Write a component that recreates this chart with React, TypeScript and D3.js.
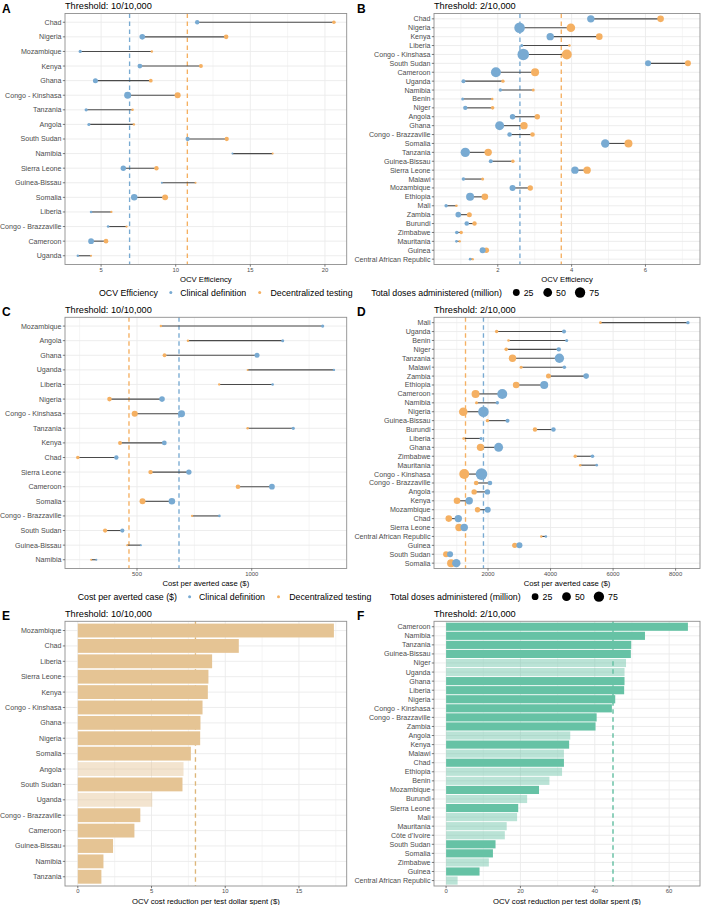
import React from 'react';
import * as d3 from 'd3';

const W = 703;
const H = 905;
const FONT = '"Liberation Sans", Arial, Helvetica, sans-serif';
const BLUE = '#78AAD2';
const ORANGE = '#F5B062';

// ---- Panel A: OCV efficiency, threshold 10/10,000 ----
const effA_countries = ['Chad', 'Nigeria', 'Mozambique', 'Kenya', 'Ghana', 'Congo - Kinshasa', 'Tanzania', 'Angola',
  'South Sudan', 'Namibia', 'Sierra Leone', 'Guinea-Bissau', 'Somalia', 'Liberia', 'Congo - Brazzaville', 'Cameroon', 'Uganda'];
const effA_clinical = [11.44, 7.76, 3.6, 7.6, 4.62, 6.78, 4.0, 4.18, 10.8, 13.8, 6.49, 9.07, 7.22, 4.33, 5.47, 4.33, 3.44];
const effA_decentral = [20.6, 13.38, 8.4, 11.69, 8.33, 10.13, 7.11, 7.2, 13.42, 16.5, 8.71, 11.33, 9.29, 5.69, 6.71, 5.33, 4.33];
// doses administered (million), same country order as panel A
const dosesA_clinical = [6.3, 14, 1.6, 8.5, 9.8, 27, 1.6, 1.1, 5.5, 0, 12.5, 0, 22, 0.4, 0.4, 15, 0.2];
const dosesA_decentral = [2.8, 7.3, 0.2, 4.3, 3.5, 18, 0.2, 0.2, 5.5, 0, 6.3, 0, 17, 0.1, 0.1, 7.3, 0];

// ---- Panel B: OCV efficiency, threshold 2/10,000 ----
const effB_countries = ['Chad', 'Nigeria', 'Kenya', 'Liberia', 'Congo - Kinshasa', 'South Sudan', 'Cameroon', 'Uganda',
  'Namibia', 'Benin', 'Niger', 'Angola', 'Ghana', 'Congo - Brazzaville', 'Somalia', 'Tanzania', 'Guinea-Bissau',
  'Sierra Leone', 'Malawi', 'Mozambique', 'Ethiopia', 'Mali', 'Zambia', 'Burundi', 'Zimbabwe', 'Mauritania', 'Guinea',
  'Central African Republic'];
const effB_clinical = [4.52, 2.59, 3.42, 2.65, 2.69, 6.07, 1.95, 1.07, 2.07, 1.05, 1.12, 2.40, 2.05, 2.32, 4.91, 1.12,
  1.81, 4.09, 1.07, 2.40, 1.25, 0.6, 0.93, 1.16, 0.89, 0.88, 1.59, 1.25];
const effB_decentral = [6.41, 3.98, 4.75, 3.94, 3.87, 7.15, 3.01, 2.14, 2.96, 1.85, 1.86, 3.07, 2.71, 2.94, 5.54, 1.74,
  2.41, 4.42, 1.59, 2.88, 1.65, 0.88, 1.23, 1.37, 1.01, 0.97, 1.69, 1.32];
const dosesB_clinical = [31.6, 80, 31.6, 1.1, 100, 17.4, 69, 4.3, 2.1, 1.1, 6.3, 12.5, 53, 7.3, 44, 59, 4.3, 31.6, 2.8,
  17.4, 39, 2.1, 14, 7.3, 2.8, 0.4, 17.4, 0.4];
const dosesB_decentral = [23, 47, 23, 0.4, 69, 17.4, 39, 2.1, 1.1, 0.4, 2.8, 12.5, 31.6, 7.3, 39, 31.6, 2.1, 31.6, 1.1,
  12.5, 23, 0.4, 9.8, 6.3, 2.1, 0.2, 12.5, 0.2];

// ---- Panel C: cost per averted case, threshold 10/10,000 ----
const costC_countries = ['Mozambique', 'Angola', 'Ghana', 'Uganda', 'Liberia', 'Nigeria', 'Congo - Kinshasa', 'Tanzania',
  'Kenya', 'Chad', 'Sierra Leone', 'Cameroon', 'Somalia', 'Congo - Brazzaville', 'South Sudan', 'Guinea-Bissau', 'Namibia'];
const costC_clinical = [1309, 1135, 1023, 1358, 1091, 609, 694, 1181, 619, 410, 726, 1088, 652, 859, 436, 517, 323];
const costC_decentral = [604, 722, 620, 982, 858, 380, 490, 982, 426, 242, 559, 940, 524, 740, 361, 457, 300];

// ---- Panel D: cost per averted case, threshold 2/10,000 ----
const costD_countries = ['Mali', 'Uganda', 'Benin', 'Niger', 'Tanzania', 'Malawi', 'Zambia', 'Ethiopia', 'Cameroon',
  'Namibia', 'Nigeria', 'Guinea-Bissau', 'Burundi', 'Liberia', 'Ghana', 'Zimbabwe', 'Mauritania', 'Congo - Kinshasa',
  'Congo - Brazzaville', 'Angola', 'Kenya', 'Mozambique', 'Chad', 'Sierra Leone', 'Central African Republic', 'Guinea',
  'South Sudan', 'Somalia'];
const costD_clinical = [8393, 4431, 4516, 4263, 4283, 4441, 5138, 3797, 2456, 2298, 1854, 2624, 4092, 1778, 2339, 5341,
  5477, 1791, 2063, 1981, 1398, 1990, 1049, 1239, 3851, 3005, 786, 986];
const costD_decentral = [5594, 2276, 2656, 2583, 2783, 3059, 3934, 2900, 1601, 1632, 1208, 1981, 3502, 1220, 1759, 4789,
  4948, 1239, 1620, 1556, 1008, 1664, 745, 1071, 3702, 2856, 659, 818];

// ---- Panel E: OCV cost reduction per test dollar, threshold 10/10,000 ----
const redE_countries = ['Mozambique', 'Chad', 'Liberia', 'Sierra Leone', 'Kenya', 'Congo - Kinshasa', 'Ghana', 'Nigeria',
  'Somalia', 'Angola', 'South Sudan', 'Uganda', 'Congo - Brazzaville', 'Cameroon', 'Guinea-Bissau', 'Namibia', 'Tanzania'];
const redE_values = [17.37, 10.92, 9.11, 8.86, 8.82, 8.46, 8.32, 8.30, 7.67, 7.17, 7.10, 5.05, 4.24, 3.84, 2.39, 1.74, 1.60];
const redE_faded = ['Angola', 'Uganda'];

// ---- Panel F: OCV cost reduction per test dollar, threshold 2/10,000 ----
const redF_countries = ['Cameroon', 'Namibia', 'Tanzania', 'Guinea-Bissau', 'Niger', 'Uganda', 'Ghana', 'Liberia',
  'Nigeria', 'Congo - Kinshasa', 'Congo - Brazzaville', 'Zambia', 'Angola', 'Kenya', 'Malawi', 'Chad', 'Ethiopia', 'Benin',
  'Mozambique', 'Burundi', 'Sierra Leone', 'Mali', 'Mauritania', "Côte d'Ivoire", 'South Sudan', 'Somalia', 'Zimbabwe',
  'Guinea', 'Central African Republic'];
const redF_values = [65.05, 53.5, 49.8, 49.7, 48.4, 48.0, 48.0, 47.9, 45.5, 44.6, 40.5, 40.2, 33.4, 33.1, 31.7, 31.7,
  31.2, 27.8, 25.0, 21.8, 19.4, 19.1, 16.3, 15.8, 13.3, 12.6, 11.5, 9.0, 3.1];
const redF_faded = ['Niger', 'Uganda', 'Angola', 'Malawi', 'Ethiopia', 'Benin', 'Burundi', 'Mali', 'Mauritania',
  "Côte d'Ivoire", 'Zimbabwe', 'Central African Republic'];

// reference (dashed) lines
const refA = { clinical: 6.91, decentral: 10.78 };
const refB = { clinical: 2.6, decentral: 3.72 };
const refC = { clinical: 683, decentral: 465 };
const refD = { clinical: 1854, decentral: 1280 };
const refE = 7.98;
const refF = 44.9;

const sizeLegend = [25, 50, 75];

const sizeScale = d3.scaleSqrt().domain([0, 100]).range([0, 4.8]);
const radius = (d: number) => 1 + sizeScale(Math.min(d, 100));

type Box = { l: number; r: number; t: number; b: number };

const boxA: Box = { l: 65, r: 346.7, t: 13.5, b: 264.5 };
const boxB: Box = { l: 434, r: 700, t: 13.5, b: 264.5 };
const boxC: Box = { l: 65, r: 346.7, t: 317.3, b: 568.5 };
const boxD: Box = { l: 434, r: 700, t: 317.3, b: 568.5 };
const boxE: Box = { l: 65, r: 346.7, t: 621.3, b: 886 };
const boxF: Box = { l: 434, r: 700, t: 621.3, b: 886 };

function doseLookup(countries: string[], values: number[]) {
  const m = new Map<string, number>();
  countries.forEach((c, i) => m.set(c, values[i]));
  return m;
}
const dA_c = doseLookup(effA_countries, dosesA_clinical);
const dA_d = doseLookup(effA_countries, dosesA_decentral);
const dB_c = doseLookup(effB_countries, dosesB_clinical);
const dB_d = doseLookup(effB_countries, dosesB_decentral);

const textStyle = { fill: '#4D4D4D' };

function Frame({ box, x, y, majors, minors, title, letter, xTitle, children }: any) {
  const cats: string[] = y.domain();
  return (
    <g>
      <rect x={box.l} y={box.t} width={box.r - box.l} height={box.b - box.t} fill="#fff" />
      {minors.filter((v: number) => x(v) > box.l && x(v) < box.r).map((v: number) => (
        <line key={'mn' + v} x1={x(v)} x2={x(v)} y1={box.t} y2={box.b} stroke="#EBEBEB" strokeWidth={0.5} />
      ))}
      {majors.map((v: number) => (
        <line key={'mj' + v} x1={x(v)} x2={x(v)} y1={box.t} y2={box.b} stroke="#EBEBEB" strokeWidth={0.9} />
      ))}
      {cats.map((c) => (
        <line key={'h' + c} x1={box.l} x2={box.r} y1={y(c)} y2={y(c)} stroke="#EBEBEB" strokeWidth={0.9} />
      ))}
      {children}
      <rect x={box.l} y={box.t} width={box.r - box.l} height={box.b - box.t} fill="none" stroke="#8f8f8f" strokeWidth={0.9} />
      {cats.map((c) => (
        <g key={'yt' + c}>
          <line x1={box.l - 2.2} x2={box.l} y1={y(c)} y2={y(c)} stroke="#444" strokeWidth={0.7} />
          <text x={box.l - 3.5} y={y(c)} dy="0.35em" textAnchor="end" fontSize={7.1} style={textStyle}>{c}</text>
        </g>
      ))}
      {majors.map((v: number) => (
        <g key={'xt' + v}>
          <line x1={x(v)} x2={x(v)} y1={box.b} y2={box.b + 2.2} stroke="#444" strokeWidth={0.7} />
          <text x={x(v)} y={box.b + 7.3} textAnchor="middle" fontSize={5.9} style={textStyle}>{String(v)}</text>
        </g>
      ))}
      <text x={(box.l + box.r) / 2} y={box.b + 17.5} textAnchor="middle" fontSize={7.7} style={{ fill: '#000' }}>{xTitle}</text>
      <text x={box.l} y={box.t - 4.5} fontSize={9.2} style={{ fill: '#000' }}>{title}</text>
      <text x={box.l < 200 ? 2 : 357} y={box.t - 1} fontSize={12} fontWeight="bold" style={{ fill: '#000' }}>{letter}</text>
    </g>
  );
}

function Dumbbell({ box, countries, clinical, decentral, dosesC, dosesD, ref, majors, minors, title, letter, xTitle }: any) {
  const all = [...clinical, ...decentral];
  const lo = d3.min(all) as number;
  const hi = d3.max(all) as number;
  const pad = (hi - lo) * 0.05;
  const x = d3.scaleLinear().domain([lo - pad, hi + pad]).range([box.l, box.r]);
  const y = d3.scalePoint<string>().domain(countries).range([box.t, box.b]).padding(0.6);
  return (
    <Frame box={box} x={x} y={y} majors={majors} minors={minors} title={title} letter={letter} xTitle={xTitle}>
      <line x1={x(ref.clinical)} x2={x(ref.clinical)} y1={box.t} y2={box.b} stroke={BLUE} strokeWidth={1.35} strokeDasharray="4.5,3.5" />
      <line x1={x(ref.decentral)} x2={x(ref.decentral)} y1={box.t} y2={box.b} stroke={ORANGE} strokeWidth={1.35} strokeDasharray="4.5,3.5" />
      {countries.map((c: string, i: number) => (
        <line key={'s' + c} x1={x(clinical[i])} x2={x(decentral[i])} y1={y(c)} y2={y(c)} stroke="#4a4a4a" strokeWidth={1.1} />
      ))}
      {countries.map((c: string, i: number) => (
        <circle key={'o' + c} cx={x(decentral[i])} cy={y(c)} r={radius(dosesD.get(c) ?? 0)} fill={ORANGE} />
      ))}
      {countries.map((c: string, i: number) => (
        <circle key={'b' + c} cx={x(clinical[i])} cy={y(c)} r={radius(dosesC.get(c) ?? 0)} fill={BLUE} />
      ))}
    </Frame>
  );
}

function Bars({ box, countries, values, faded, color, lineColor, refValue, majors, minors, title, letter, xTitle }: any) {
  const hi = d3.max(values) as number;
  const x = d3.scaleLinear().domain([-hi * 0.05, hi * 1.05]).range([box.l, box.r]);
  const y = d3.scalePoint<string>().domain(countries).range([box.t, box.b]).padding(0.6);
  const bh = y.step() * 0.9;
  return (
    <Frame box={box} x={x} y={y} majors={majors} minors={minors} title={title} letter={letter} xTitle={xTitle}>
      <line x1={x(refValue)} x2={x(refValue)} y1={box.t} y2={box.b} stroke={lineColor} strokeWidth={1.35} strokeDasharray="4.5,3.5" />
      {countries.map((c: string, i: number) => (
        <rect key={c} x={x(0)} y={(y(c) as number) - bh / 2} width={x(values[i]) - x(0)} height={bh}
          fill={color} fillOpacity={faded.includes(c) ? 0.45 : 1} />
      ))}
    </Frame>
  );
}

function Legend({ y, title, titleW, start }: { y: number; title: string; titleW: number; start: number }) {
  let x = start;
  const titleX = x;
  x += titleW + 12.6;
  const blueDot = x;
  x += 9.4;
  const clinText = x;
  x += 68.5 + 11;
  const orangeDot = x;
  x += 10.7;
  const decText = x;
  x += 82.2 + 18.7;
  const sizeTitle = x;
  x += 131.5 + 13.5;
  const keys = sizeLegend.map((v) => {
    const dot = x;
    const label = dot + radius(v) + 4;
    x = label + 9.8 + 14.2;
    return { v, dot, label };
  });
  const st = { fill: '#000' };
  return (
    <g fontSize={8.8}>
      <text x={titleX} y={y} dy="0.35em" style={st}>{title}</text>
      <circle cx={blueDot} cy={y} r={1.5} fill={BLUE} />
      <text x={clinText} y={y} dy="0.35em" style={st}>Clinical definition</text>
      <circle cx={orangeDot} cy={y} r={1.5} fill={ORANGE} />
      <text x={decText} y={y} dy="0.35em" style={st}>Decentralized testing</text>
      <text x={sizeTitle} y={y} dy="0.35em" style={st}>Total doses administered (million)</text>
      {keys.map((k) => (
        <g key={k.v}>
          <circle cx={k.dot} cy={y} r={radius(k.v)} fill="#000" />
          <text x={k.label} y={y} dy="0.35em" style={st}>{k.v}</text>
        </g>
      ))}
    </g>
  );
}

export default function App() {
  return (
    <svg width={W} height={H} style={{ display: 'block', position: 'absolute', left: 0, top: 0, background: '#fff' }}
      fontFamily={FONT}>
      <rect width={W} height={H} fill="#fff" />
      <Dumbbell box={boxA} countries={effA_countries} clinical={effA_clinical} decentral={effA_decentral}
        dosesC={dA_c} dosesD={dA_d} ref={refA} majors={[5, 10, 15, 20]} minors={[2.5, 7.5, 12.5, 17.5]}
        title="Threshold: 10/10,000" letter="A" xTitle="OCV Efficiency" />
      <Dumbbell box={boxB} countries={effB_countries} clinical={effB_clinical} decentral={effB_decentral}
        dosesC={dB_c} dosesD={dB_d} ref={refB} majors={[2, 4, 6]} minors={[1, 3, 5, 7]}
        title="Threshold: 2/10,000" letter="B" xTitle="OCV Efficiency" />
      <Legend y={292.5} title="OCV Efficiency" titleW={59.2} start={99} />
      <Dumbbell box={boxC} countries={costC_countries} clinical={costC_clinical} decentral={costC_decentral}
        dosesC={dA_c} dosesD={dA_d} ref={refC} majors={[500, 1000]} minors={[250, 750, 1250]}
        title="Threshold: 10/10,000" letter="C" xTitle="Cost per averted case ($)" />
      <Dumbbell box={boxD} countries={costD_countries} clinical={costD_clinical} decentral={costD_decentral}
        dosesC={dB_c} dosesD={dB_d} ref={refD} majors={[2000, 4000, 6000, 8000]} minors={[1000, 3000, 5000, 7000]}
        title="Threshold: 2/10,000" letter="D" xTitle="Cost per averted case ($)" />
      <Legend y={596.7} title="Cost per averted case ($)" titleW={99.3} start={77.7} />
      <Bars box={boxE} countries={redE_countries} values={redE_values} faded={redE_faded} color="#E5C494"
        lineColor="#DDB679" refValue={refE} majors={[0, 5, 10, 15]} minors={[2.5, 7.5, 12.5, 17.5]}
        title="Threshold: 10/10,000" letter="E" xTitle="OCV cost reduction per test dollar spent ($)" />
      <Bars box={boxF} countries={redF_countries} values={redF_values} faded={redF_faded} color="#66C2A5"
        lineColor="#5BBB9C" refValue={refF} majors={[0, 20, 40, 60]} minors={[10, 30, 50]}
        title="Threshold: 2/10,000" letter="F" xTitle="OCV cost reduction per test dollar spent ($)" />
    </svg>
  );
}
